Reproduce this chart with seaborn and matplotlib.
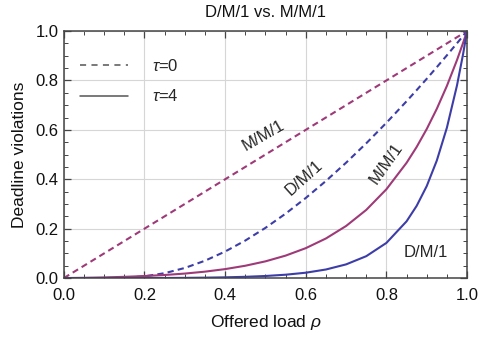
import numpy as np
import pandas as pd
import seaborn as sns
import matplotlib
matplotlib.use("Agg")
import matplotlib.pyplot as plt
from matplotlib.lines import Line2D
from matplotlib.ticker import MultipleLocator

# Offered load grid
rho = [0.0, 0.05, 0.1, 0.15, 0.2, 0.25, 0.3, 0.35, 0.4, 0.45, 0.5, 0.55, 0.6,
       0.65, 0.7, 0.75, 0.8, 0.85, 0.875, 0.9, 0.925, 0.95, 0.975, 0.99, 1.0]

# M/M/1, tau = 0 (dashed)
mm1_tau0 = [0.0, 0.05, 0.1, 0.15, 0.2, 0.25, 0.3, 0.35, 0.4, 0.45, 0.5, 0.55, 0.6,
            0.65, 0.7, 0.75, 0.8, 0.85, 0.875, 0.9, 0.925, 0.95, 0.975, 0.99, 1.0]
# D/M/1, tau = 0 (dashed)
dm1_tau0 = [0.0, 0.0, 0.00005, 0.0013, 0.0070, 0.0198, 0.0409, 0.0702, 0.1074,
            0.1519, 0.2032, 0.2608, 0.3242, 0.3931, 0.4670, 0.5455, 0.6286,
            0.7158, 0.7608, 0.8067, 0.8538, 0.9017, 0.9504, 0.9801, 1.0]
# M/M/1, tau = 4 (solid)
mm1_tau4 = [0.0, 0.0011, 0.0027, 0.0050, 0.0082, 0.0125, 0.0182, 0.0260, 0.0363,
            0.0499, 0.0677, 0.0909, 0.1211, 0.1603, 0.2108, 0.2759, 0.3595,
            0.4665, 0.5307, 0.6033, 0.6852, 0.7778, 0.8822, 0.9512, 1.0]
# D/M/1, tau = 4 (solid)
dm1_tau4 = [0.0, 0.0, 0.0, 0.00002, 0.00013, 0.00039, 0.00088, 0.0017, 0.0030,
            0.0051, 0.0084, 0.0136, 0.0217, 0.0347, 0.0554, 0.0886, 0.1423,
            0.2297, 0.2922, 0.3723, 0.4757, 0.6086, 0.7793, 0.9049, 1.0]

xticks = [0.0, 0.2, 0.4, 0.6, 0.8, 1.0]
yticks = [0.0, 0.2, 0.4, 0.6, 0.8, 1.0]

PURPLE = "#9E3A78"
BLUE = "#3D3DA8"
FS = 12

sns.set_theme(style="white")
plt.rcParams["font.family"] = ["Liberation Sans", "DejaVu Sans"]
plt.rcParams["mathtext.fontset"] = "custom"
plt.rcParams["mathtext.rm"] = "Liberation Sans"
plt.rcParams["mathtext.it"] = "Liberation Sans:italic"

fig = plt.figure(figsize=(4.8, 3.45), dpi=100)
ax = fig.add_axes([0.133, 0.194, 0.840, 0.716])

dash = (3.0, 2.0)
LW = 1.5
sns.lineplot(x=rho, y=mm1_tau0, ax=ax, color=PURPLE, lw=LW)
ax.lines[-1].set_dashes(dash)
sns.lineplot(x=rho, y=dm1_tau0, ax=ax, color=BLUE, lw=LW)
ax.lines[-1].set_dashes(dash)
sns.lineplot(x=rho, y=mm1_tau4, ax=ax, color=PURPLE, lw=LW)
sns.lineplot(x=rho, y=dm1_tau4, ax=ax, color=BLUE, lw=LW)

ax.set_xlim(0, 1)
ax.set_ylim(0, 1)
ax.set_xticks(xticks)
ax.set_yticks(yticks)
ax.set_xticklabels([f"{t:.1f}" for t in xticks])
ax.set_yticklabels([f"{t:.1f}" for t in yticks])
ax.xaxis.set_minor_locator(MultipleLocator(0.05))
ax.yaxis.set_minor_locator(MultipleLocator(0.05))
ax.tick_params(which="both", direction="in", top=True, right=True,
               bottom=True, left=True, color="#444444")
ax.tick_params(which="major", length=5, width=0.9, labelsize=FS,
               labelcolor="#111111")
ax.tick_params(axis="x", which="major", pad=7)
ax.tick_params(axis="y", which="major", pad=4)
ax.tick_params(which="minor", length=2.8, width=0.7)
ax.grid(True, which="major", color="#D6D6D6", lw=0.8)
ax.set_axisbelow(True)
for s in ax.spines.values():
    s.set_color("#444444")
    s.set_linewidth(1.1)

ax.set_xlabel(r"Offered load $\rho$", fontsize=12.5, labelpad=7, color="#111111")
ax.set_ylabel("Deadline violations", fontsize=12.5, labelpad=6, color="#111111")
ax.set_title("D/M/1 vs. M/M/1", fontsize=FS, pad=10, color="#111111")

# curve labels
ax.text(0.496, 0.575, "M/M/1", rotation=30, ha="center", va="center",
        fontsize=FS, rotation_mode="anchor")
ax.text(0.596, 0.405, "D/M/1", rotation=42, ha="center", va="center",
        fontsize=FS, rotation_mode="anchor")
ax.text(0.799, 0.462, "M/M/1", rotation=55, ha="center", va="center",
        fontsize=FS, rotation_mode="anchor")
ax.text(0.897, 0.105, "D/M/1", rotation=0, ha="center", va="center", fontsize=FS)

handles = [Line2D([], [], color="#555555", lw=1.1, dashes=(4, 3.5)),
           Line2D([], [], color="#555555", lw=1.1)]
leg = ax.legend(handles, [r"$\tau$=0", r"$\tau$=4"], loc="upper left",
                bbox_to_anchor=(0.040, 0.89), frameon=False, fontsize=FS,
                handlelength=2.9, handletextpad=1.4, labelspacing=0.85,
                borderaxespad=0.0, borderpad=0.0)

fig.savefig("out.png", dpi=100)
